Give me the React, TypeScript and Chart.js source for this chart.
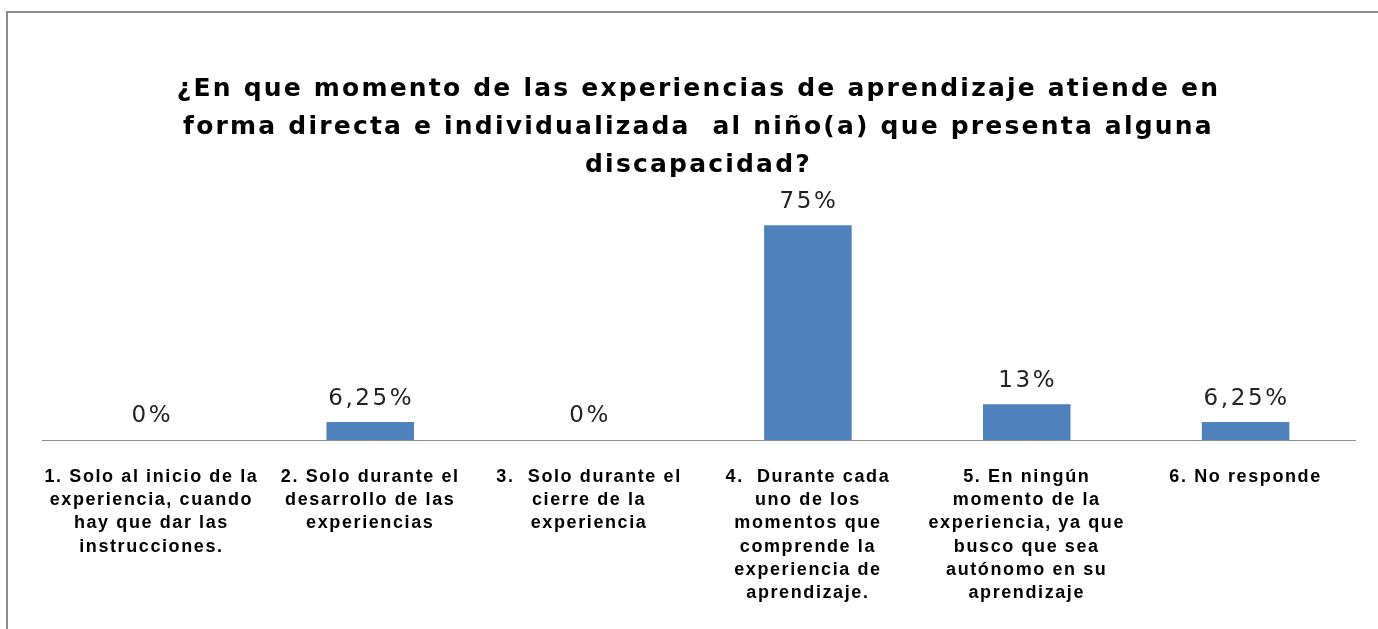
import React, { useEffect, useRef } from "react";
import { Chart, registerables } from "chart.js";

Chart.register(...registerables);

const titleLines: string[] = [
  "¿En que momento de las experiencias de aprendizaje atiende en",
  "forma directa e individualizada  al niño(a) que presenta alguna",
  "discapacidad?",
];

const categories: string[][] = [
  ["1. Solo al inicio de la", "experiencia, cuando", "hay que dar las", "instrucciones."],
  ["2. Solo durante el", "desarrollo de las", "experiencias"],
  ["3.  Solo durante el", "cierre de la", "experiencia"],
  ["4.  Durante cada", "uno de los", "momentos que", "comprende la", "experiencia de", "aprendizaje."],
  ["5. En ningún", "momento de la", "experiencia, ya que", "busco que sea", "autónomo en su", "aprendizaje"],
  ["6. No responde"],
];

const values: number[] = [0, 6.25, 0, 75, 12.5, 6.25];

const valueLabels: string[] = ["0%", "6,25%", "0%", "75%", "13%", "6,25%"];

const TITLE_SPACING = "2.2px";
const TICK_SPACING = "1.6px";
const VALUE_SPACING = "2.6px";

const framePlugin = {
  id: "frame",
  beforeDraw(chart: any) {
    const ctx = chart.ctx;
    ctx.save();
    ctx.fillStyle = "#ffffff";
    ctx.fillRect(0, 0, chart.width, chart.height);
    ctx.strokeStyle = "#8c8c8c";
    ctx.lineWidth = 2;
    ctx.strokeRect(7, 12, chart.width + 40, chart.height + 40);
    ctx.restore();
    (ctx as any).letterSpacing = TITLE_SPACING;
  },
  afterDraw(chart: any) {
    (chart.ctx as any).letterSpacing = "0px";
  },
};

const valueLabelPlugin = {
  id: "valueLabels",
  afterDatasetsDraw(chart: any) {
    const ctx = chart.ctx;
    const meta = chart.getDatasetMeta(0);
    ctx.save();
    ctx.font = "23px 'DejaVu Sans'";
    (ctx as any).letterSpacing = VALUE_SPACING;
    ctx.fillStyle = "#222222";
    ctx.textAlign = "center";
    ctx.textBaseline = "bottom";
    meta.data.forEach((el: any, i: number) => {
      ctx.fillText(valueLabels[i], el.x + 1, el.y - 12);
    });
    ctx.restore();
    (ctx as any).letterSpacing = TICK_SPACING;
  },
};

export default function App() {
  const ref = useRef<HTMLCanvasElement | null>(null);

  useEffect(() => {
    if (!ref.current) return;
    const chart = new Chart(ref.current, {
      type: "bar",
      data: {
        labels: categories,
        datasets: [
          {
            data: values,
            backgroundColor: "#4f81bd",
            borderWidth: 0,
            barPercentage: 0.4,
            categoryPercentage: 1,
          },
        ],
      },
      options: {
        animation: false,
        responsive: false,
        devicePixelRatio: 1,
        layout: { padding: { left: 42, right: 23, top: 0, bottom: 0 } },
        plugins: {
          legend: { display: false },
          tooltip: { enabled: false },
          title: {
            display: true,
            text: titleLines,
            color: "#000000",
            font: { family: "'DejaVu Sans'", size: 25, weight: "bold", lineHeight: 1.52 },
            padding: { top: 70, bottom: 27 },
          },
        },
        scales: {
          x: {
            grid: { display: false, drawTicks: false },
            border: { display: true, color: "#8c8c8c", width: 1 },
            ticks: {
              z: 1,
              color: "#000000",
              autoSkip: false,
              maxRotation: 0,
              minRotation: 0,
              padding: 25,
              font: { family: "'Liberation Sans'", size: 18, weight: "bold", lineHeight: 1.295 },
            },
            afterFit(scale: any) {
              scale.height = 189;
            },
          },
          y: {
            display: false,
            min: 0,
            max: 80,
          },
        },
      },
      plugins: [framePlugin, valueLabelPlugin],
    });
    return () => chart.destroy();
  }, []);

  return (
    <div style={{ position: "fixed", left: 0, top: 0, width: 1378, height: 629, overflow: "hidden", background: "#fff" }}>
      <canvas ref={ref} width={1378} height={629} style={{ display: "block" }} />
    </div>
  );
}
